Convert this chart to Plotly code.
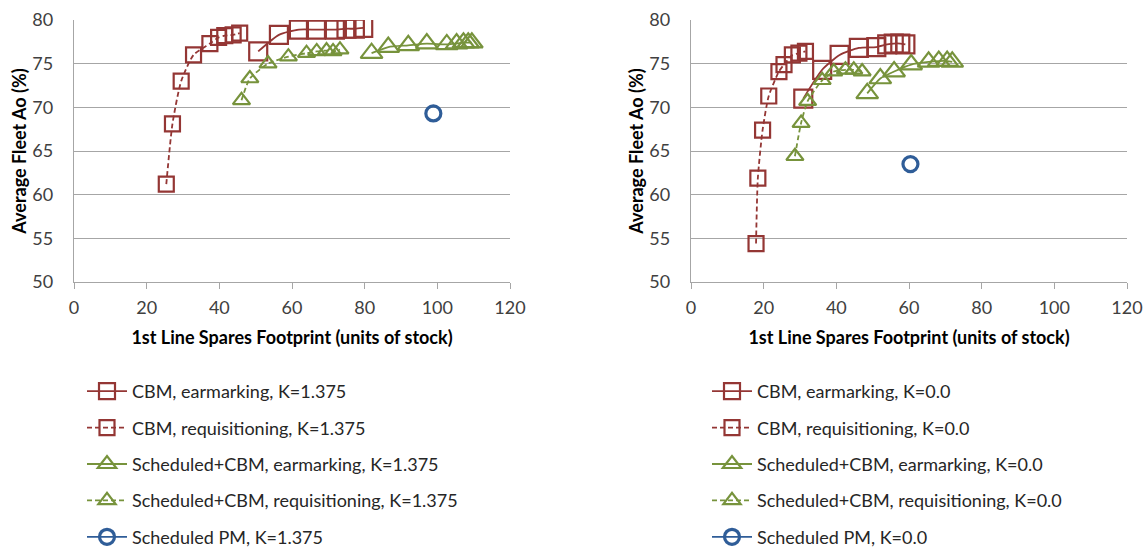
import plotly.graph_objects as go

# ---- K = 1.375 ----
cbm_ear_x_L = [50.7, 56.4, 61.9, 66.6, 71.8, 75.0, 77.3, 79.6]
cbm_ear_y_L = [76.4, 78.3, 78.9, 78.9, 78.9, 79.0, 79.0, 79.1]
cbm_req_x_L = [25.4, 27.1, 29.5, 32.9, 37.4, 39.8, 41.5, 43.8, 45.6]
cbm_req_y_L = [61.2, 68.1, 73.0, 76.0, 77.3, 78.0, 78.2, 78.3, 78.5]
sch_ear_x_L = [81.9, 86.5, 92.0, 97.1, 102.6, 105.3, 107.2, 108.5, 109.5]
sch_ear_y_L = [76.2, 76.9, 77.1, 77.3, 77.2, 77.3, 77.4, 77.4, 77.4]
sch_req_x_L = [46.1, 48.4, 53.4, 59.0, 64.0, 66.8, 69.5, 71.3, 73.2]
sch_req_y_L = [70.8, 73.3, 75.0, 75.8, 76.2, 76.4, 76.5, 76.4, 76.6]
pm_x_L = [98.9]
pm_y_L = [69.3]

# ---- K = 0.0 ----
cbm_ear_x_R = [30.9, 36.1, 40.9, 46.2, 51.0, 54.0, 55.8, 57.6, 59.0]
cbm_ear_y_R = [71.0, 74.3, 76.0, 76.8, 76.9, 77.2, 77.3, 77.3, 77.2]
cbm_req_x_R = [17.9, 18.4, 19.7, 21.4, 24.2, 25.6, 27.9, 29.7, 31.5]
cbm_req_y_R = [54.4, 61.9, 67.4, 71.3, 74.1, 74.9, 76.0, 76.2, 76.4]
sch_ear_x_R = [48.5, 52.1, 55.9, 60.6, 65.4, 68.2, 70.5, 71.9]
sch_ear_y_R = [71.6, 73.3, 74.1, 74.9, 75.2, 75.3, 75.3, 75.2]
sch_req_x_R = [28.6, 30.3, 32.1, 36.1, 39.3, 42.5, 44.8, 47.1]
sch_req_y_R = [64.4, 68.2, 70.7, 73.1, 74.1, 74.3, 74.3, 74.1]
pm_x_R = [60.4]
pm_y_R = [63.5]

x_ticks = [0, 20, 40, 60, 80, 100, 120]
y_ticks = [50, 55, 60, 65, 70, 75, 80]

RED = "#943634"
GREEN = "#77933C"
BLUE = "#2F5D98"
FONT = "Lato"
FS = 18
W, H = 1148, 547

fig = go.Figure()


def add_panel(k, xa, ya, leg, data):
    (cex, cey, crx, cry, sex, sey, srx, sry, px, py) = data
    specs = [
        (cex, cey, f"CBM, earmarking, K={k}", RED, "solid", "square-open", 18),
        (crx, cry, f"CBM, requisitioning, K={k}", RED, "dash", "square-open", 15),
        (sex, sey, f"Scheduled+CBM, earmarking, K={k}", GREEN, "solid", "triangle-up-open", 19),
        (srx, sry, f"Scheduled+CBM, requisitioning, K={k}", GREEN, "dash", "triangle-up-open", 15),
        (px, py, f"Scheduled PM, K={k}", BLUE, "solid", "circle-open", 15),
    ]
    for i, (x, y, name, col, dash, sym, size) in enumerate(specs):
        fig.add_trace(go.Scatter(
            x=x, y=y, name=name, mode="lines+markers",
            line=dict(color=col, width=1.8, dash="5px,3px" if dash == "dash" else "solid",
                      shape="spline", smoothing=0.6),
            marker=dict(symbol=sym, size=size, color=col,
                        line=dict(color=col, width=2.2 if sym != "circle-open" else 3.2)),
            xaxis=xa, yaxis=ya, legend=leg, legendgroup=f"{leg}{i}",
        ))


add_panel("1.375", "x", "y", "legend",
          (cbm_ear_x_L, cbm_ear_y_L, cbm_req_x_L, cbm_req_y_L,
           sch_ear_x_L, sch_ear_y_L, sch_req_x_L, sch_req_y_L, pm_x_L, pm_y_L))
add_panel("0.0", "x2", "y2", "legend2",
          (cbm_ear_x_R, cbm_ear_y_R, cbm_req_x_R, cbm_req_y_R,
           sch_ear_x_R, sch_ear_y_R, sch_req_x_R, sch_req_y_R, pm_x_R, pm_y_R))

GRID = "#A6A6A6"


def xaxis(dom, anchor):
    return dict(domain=dom, anchor=anchor, range=[0, 120], tickvals=x_ticks,
                showgrid=False, zeroline=False, showline=True, linecolor=GRID, linewidth=1.3,
                ticks="outside", ticklen=6, tickcolor=GRID, tickwidth=1.3,
                ticklabelstandoff=3, automargin=False,
                tickfont=dict(family=FONT, size=FS, color="#404040"),
                title=dict(text="<b>1st Line Spares Footprint (units of stock)</b>",
                           font=dict(family=FONT, size=FS, color="#000000"), standoff=14))


def yaxis(anchor):
    return dict(domain=[1 - 282 / H, 1 - 20 / H], anchor=anchor, range=[50, 80],
                tickvals=y_ticks, showgrid=True, gridcolor=GRID, gridwidth=1.3,
                zeroline=False, showline=True, linecolor=GRID, linewidth=1.3,
                ticks="", ticklabelstandoff=16, automargin=False,
                tickfont=dict(family=FONT, size=FS, color="#404040"),
                title=dict(text="<b>Average Fleet Ao (%)</b>",
                           font=dict(family=FONT, size=FS, color="#000000"), standoff=1))


legend_common = dict(
    font=dict(family=FONT, size=FS, color="#262626"),
    bgcolor="rgba(0,0,0,0)", traceorder="grouped", tracegroupgap=10,
    xanchor="left", yanchor="top", itemwidth=40,
)

fig.update_layout(
    width=W, height=H,
    margin=dict(l=0, r=0, t=0, b=0, autoexpand=False),
    paper_bgcolor="white", plot_bgcolor="white",
    xaxis=xaxis([74 / W, 510 / W], "y"),
    yaxis=yaxis("x"),
    xaxis2=xaxis([691 / W, 1127 / W], "y2"),
    yaxis2=yaxis("x2"),
    showlegend=True,
    legend=dict(x=82 / W, y=1 - 373 / H, **legend_common),
    legend2=dict(x=707 / W, y=1 - 373 / H, **legend_common),
)

fig.write_html("out.html")
